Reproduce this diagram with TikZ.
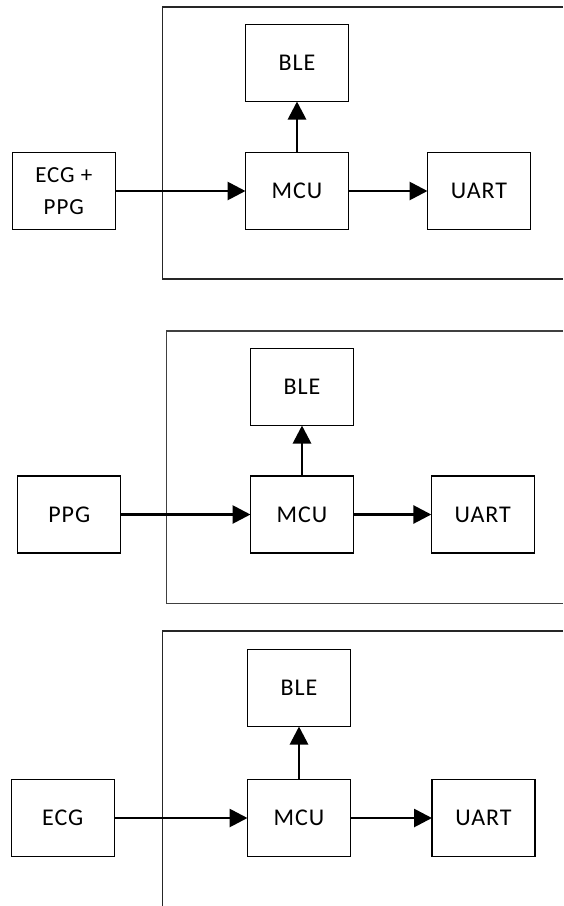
\documentclass[tikz,border=0pt]{standalone}
\usepackage{fontspec}
\setmainfont[LetterSpace=4]{Carlito}
\usetikzlibrary{arrows.meta}
\begin{document}
\begin{tikzpicture}[x=1pt,y=-1pt,
  blk/.style={draw=black, line width=1.2pt, minimum width=103pt, minimum height=77pt, inner sep=0pt,
    font=\fontsize{24}{32}\selectfont, align=center},
  panel/.style={draw=black!85, line width=1.3pt},
  flow/.style={line width=2.8pt, -{Triangle[length=18pt,width=18pt]}, shorten >=-0.6pt}]
\useasboundingbox (0,0) rectangle (563,906);
\fill[white] (0,0) rectangle (563,906);

% ---------- panel 1 ----------
\draw[panel] (563,7) -- (162.3,7) -- (162.3,279) -- (563,279);
\node[blk, font=\fontsize{23}{32}\selectfont] (src1) at (63.8,191) {ECG +\\PPG};
\node[blk] (mcu1) at (297,191) {MCU};
\node[blk] (ble1) at (297,63) {BLE};
\node[blk] (uart1) at (479,191) {UART};
\draw[flow] (src1.east) -- (mcu1.west);
\draw[flow] (mcu1.east) -- (uart1.west);
\draw[flow] (mcu1.north) -- (ble1.south);

% ---------- panel 2 ----------
\draw[panel, draw=black!75] (563,331) -- (166.7,331) -- (166.7,603.5) -- (563,603.5);
\node[blk] (src2) at (69.3,514.5) {PPG};
\node[blk] (mcu2) at (302,514.5) {\raisebox{-7pt}{MCU}};
\node[blk] (ble2) at (302,387) {\raisebox{-6pt}{BLE}};
\node[blk] (uart2) at (482.8,514.5) {\raisebox{-7pt}{UART}};
\draw[flow] (src2.east) -- (mcu2.west);
\draw[flow] (mcu2.east) -- (uart2.west);
\draw[flow] (mcu2.north) -- (ble2.south);

% ---------- panel 3 ----------
\draw[panel] (563,631) -- (162.3,631) -- (162.3,906);
\node[blk] (src3) at (62.7,818) {ECG};
\node[blk] (mcu3) at (299,818) {MCU};
\node[blk] (ble3) at (299,688) {BLE};
\node[blk] (uart3) at (483.5,818) {UART};
\draw[flow] (src3.east) -- (mcu3.west);
\draw[flow] (mcu3.east) -- (uart3.west);
\draw[flow] (mcu3.north) -- (ble3.south);
\end{tikzpicture}
\end{document}
